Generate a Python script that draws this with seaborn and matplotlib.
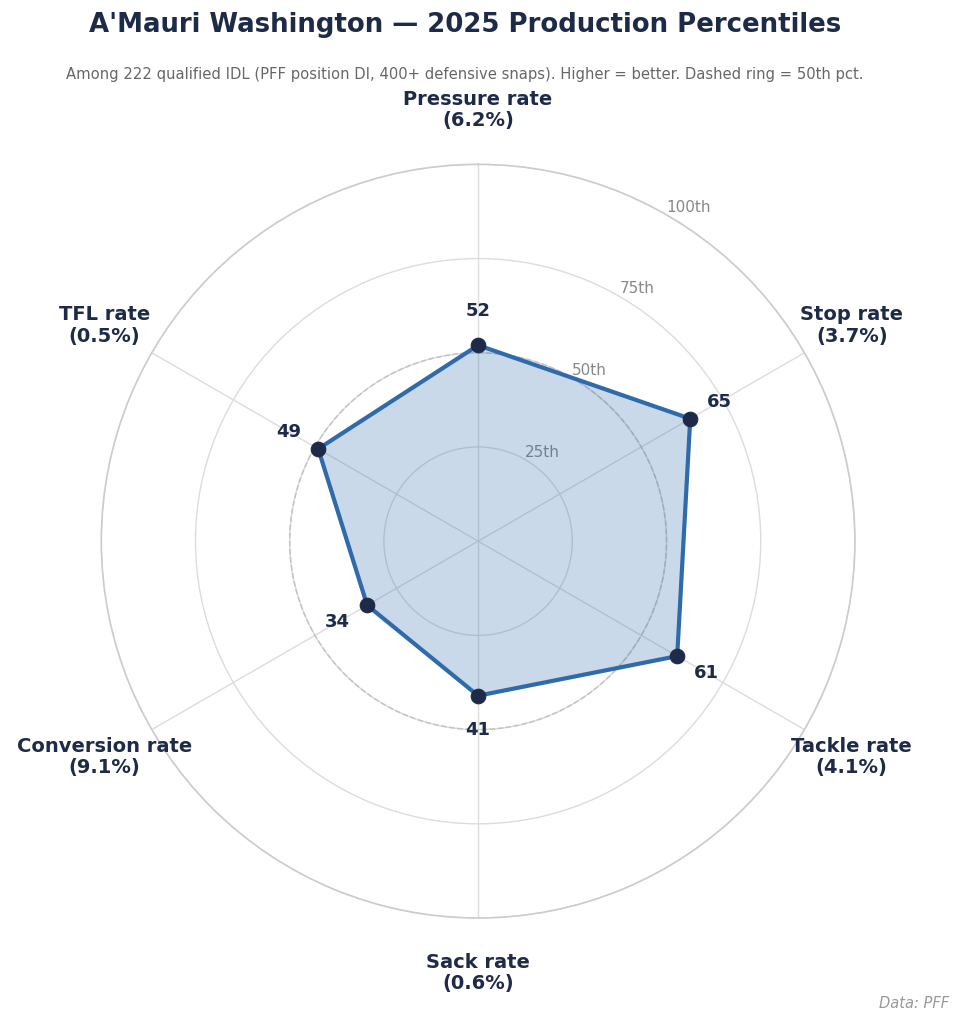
import matplotlib

matplotlib.use("Agg")
import matplotlib.pyplot as plt
import numpy as np
import pandas as pd
import seaborn as sns

METRICS = ["Pressure rate", "Stop rate", "Tackle rate", "Sack rate", "Conversion rate", "TFL rate"]
RATES = ["6.2%", "3.7%", "4.1%", "0.6%", "9.1%", "0.5%"]
PERCENTILES = [52, 65, 61, 41, 34, 49]
RING_TICKS = [25, 50, 75, 100]
RING_LABELS = ["25th", "50th", "75th", "100th"]

NAVY = "#1d2a48"
LINE_BLUE = "#2f6aab"
GRID_GRAY = "#dcdcdc"


def main() -> None:
    sns.set_theme(style="white")
    plt.rcParams["font.family"] = ["DejaVu Sans"]

    df = pd.DataFrame({"metric": METRICS, "rate": RATES, "pct": PERCENTILES})
    n = len(df)
    df["theta"] = np.arange(n) * 2 * np.pi / n
    closed = pd.concat([df, df.iloc[:1]], ignore_index=True)
    closed.loc[n, "theta"] = 2 * np.pi

    fig = plt.figure(figsize=(9.62, 10.24), dpi=100)
    ax = fig.add_axes([0.105, 0.1035, 0.784, 0.736], projection="polar")
    ax.set_theta_zero_location("N")
    ax.set_theta_direction(-1)
    ax.set_ylim(0, 100)

    # fill + outline
    ax.fill(closed["theta"], closed["pct"], color=LINE_BLUE, alpha=0.25, zorder=2)
    sns.lineplot(data=closed, x="theta", y="pct", sort=False, estimator=None,
                 color=LINE_BLUE, linewidth=3, ax=ax, zorder=3)
    sns.scatterplot(data=df, x="theta", y="pct", color=NAVY, s=110,
                    edgecolor=NAVY, linewidth=0.8, ax=ax, zorder=4)

    # 50th percentile dashed ring
    ring = np.linspace(0, 2 * np.pi, 361)
    ax.plot(ring, np.full_like(ring, 50), color="#c4c4c4", linestyle="--", linewidth=1.1, zorder=1)

    ax.set_xticks(df["theta"])
    ax.set_xticklabels([])
    ax.set_yticks(RING_TICKS)
    ax.set_yticklabels(RING_LABELS, color="#888888", fontsize=11)
    ax.set_rlabel_position(30)
    ax.grid(True, color=GRID_GRAY, linewidth=1)
    ax.spines["polar"].set_color("#cccccc")
    ax.spines["polar"].set_linewidth(1.2)
    ax.set_xlabel("")
    ax.set_ylabel("")

    for row in df.itertuples(index=False):
        ax.text(row.theta, row.pct + 9, f"{row.pct}", ha="center", va="center",
                fontsize=13, fontweight="bold", color=NAVY, zorder=5)
        ax.text(row.theta, 114.5, f"{row.metric}\n({row.rate})", ha="center", va="center",
                fontsize=14, fontweight="bold", color=NAVY, linespacing=1.15)

    fig.text(0.483, 0.976, "A'Mauri Washington \u2014 2025 Production Percentiles",
             ha="center", va="center", fontsize=18.7, fontweight="bold", color=NAVY)
    fig.text(0.483, 0.927,
             "Among 222 qualified IDL (PFF position DI, 400+ defensive snaps). Higher = better. Dashed ring = 50th pct.",
             ha="center", va="center", fontsize=10.6, color="#666666")
    fig.text(0.987, 0.02, "Data: PFF", ha="right", va="center", fontsize=10.5,
             style="italic", color="#999999")

    fig.savefig("out.png", dpi=100, facecolor="white")
    plt.close(fig)


if __name__ == "__main__":
    main()
